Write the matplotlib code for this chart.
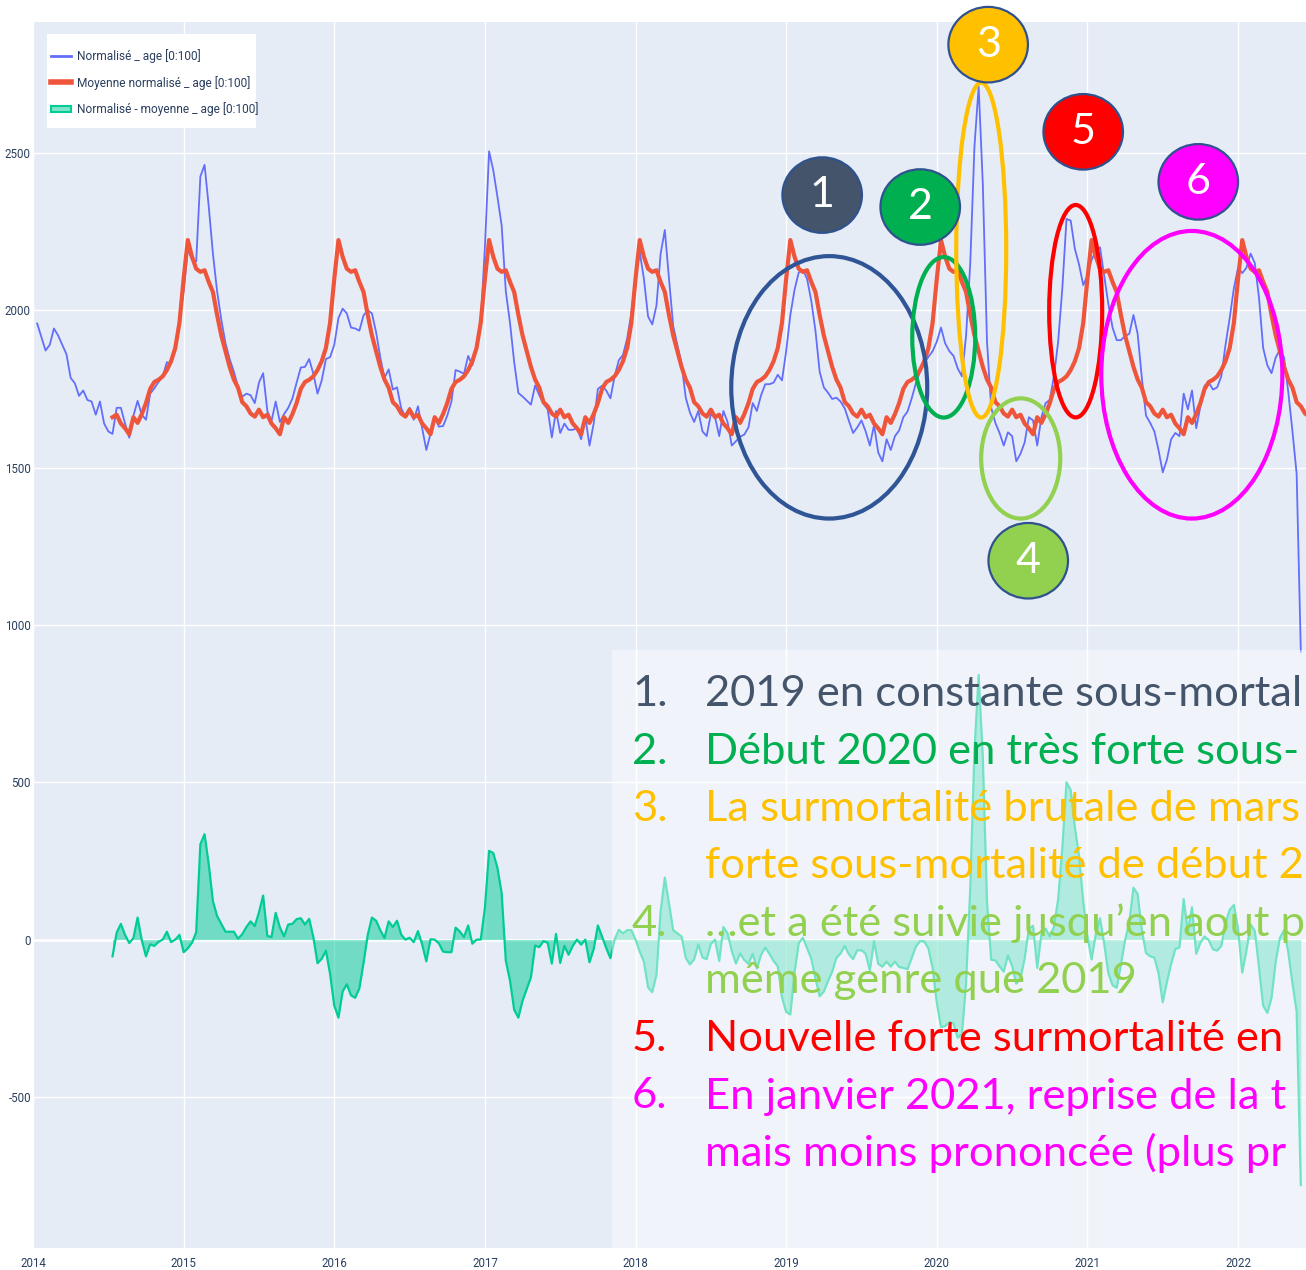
import numpy as np
import matplotlib
matplotlib.use("Agg")
import matplotlib.pyplot as plt
from matplotlib.patches import Ellipse, Rectangle, Patch
from matplotlib.lines import Line2D
from matplotlib.legend_handler import HandlerPatch

# ---------------- data ----------------
STEPS_PER_YEAR = 36          # one value every 1/36 year (~10 days)
START_YEAR = 2014
BLUE_FIRST_STEP = 1
RED_FIRST_STEP = 19
RED_LAST_STEP = 305

# "Normalisé _ age [0:100]"
normalise = [
    1958, 1915, 1872, 1890, 1942, 1920, 1890, 1860, 1785, 1768, 1728, 1745, 1715, 1710, 1668, 1710, 1640, 1615,
    1607, 1690, 1690, 1640, 1595, 1665, 1712, 1668, 1652, 1735, 1752, 1772, 1790, 1835, 1830, 1880, 1975,
    # 2015
    2060, 2195, 2160, 2155, 2425, 2462, 2330, 2180, 2060, 1970, 1895, 1845, 1805, 1757, 1725, 1735, 1730, 1705,
    1770, 1800, 1680, 1648, 1710, 1645, 1670, 1690, 1720, 1770, 1818, 1820, 1845, 1798, 1735, 1777, 1845, 1851,
    # 2016
    1890, 1975, 2005, 1990, 1945, 1942, 1935, 1984, 2000, 1990, 1930, 1850, 1785, 1812, 1748, 1755, 1688, 1662,
    1690, 1652, 1695, 1625, 1556, 1607, 1660, 1630, 1632, 1665, 1710, 1810, 1805, 1798, 1855, 1825, 1880, 1960,
    # 2017
    2200, 2505, 2445, 2360, 2270, 2060, 1960, 1835, 1737, 1726, 1713, 1700, 1761, 1730, 1703, 1685, 1596, 1680,
    1610, 1640, 1620, 1620, 1625, 1590, 1660, 1570, 1640, 1750, 1760, 1745, 1720, 1790, 1841, 1858, 1910, 1990,
    # 2018
    2100, 2185, 2100, 1980, 1955, 2015, 2180, 2255, 2100, 1950, 1890, 1830, 1722, 1675, 1645, 1680, 1615, 1600,
    1670, 1660, 1600, 1680, 1645, 1570, 1584, 1598, 1605, 1628, 1705, 1680, 1730, 1765, 1765, 1770, 1795, 1777,
    # 2019
    1870, 1985, 2065, 2120, 2128, 2100, 2030, 1935, 1805, 1755, 1738, 1718, 1722, 1710, 1688, 1648, 1610, 1628,
    1650, 1615, 1570, 1635, 1548, 1520, 1590, 1556, 1600, 1618, 1660, 1678, 1720, 1768, 1805, 1832, 1852, 1870,
    # 2020
    1900, 1945, 1895, 1870, 1855, 1815, 1790, 1920, 2150, 2520, 2711, 2400, 1900, 1690, 1642, 1610, 1570, 1612,
    1600, 1520, 1544, 1580, 1660, 1650, 1570, 1660, 1705, 1715, 1790, 1900, 2070, 2290, 2285, 2195, 2145, 2080,
    # 2021
    2110, 2160, 2188, 2200, 2110, 2020, 1945, 1905, 1905, 1918, 1925, 1985, 1925, 1785, 1665, 1642, 1615, 1555,
    1485, 1525, 1590, 1610, 1600, 1735, 1685, 1745, 1625, 1695, 1760, 1770, 1748, 1755, 1790, 1890, 1975, 2070,
    # 2022
    2135, 2118, 2135, 2180, 2150, 2040, 1880, 1825, 1800, 1850, 1875, 1850, 1740, 1615, 1480, 915,
]

# "Moyenne normalisé _ age [0:100]" : average yearly profile (36 steps per year)
moyenne_profile = [
    2100, 2223, 2170, 2132, 2122, 2127, 2090, 2058, 1985, 1920, 1870, 1820, 1780, 1754, 1708, 1695, 1672, 1662,
    1684, 1660, 1668, 1640, 1625, 1606, 1660, 1642, 1670, 1705, 1750, 1772, 1779, 1790, 1810, 1838, 1880, 1960,
]

year_ticks = list(range(2014, 2023))
value_ticks = [-500, 0, 500, 1000, 1500, 2000, 2500]

legend_labels = ["Normalisé _ age [0:100]", "Moyenne normalisé _ age [0:100]",
                 "Normalisé - moyenne _ age [0:100]"]

# text as visible in the (cropped) reference
notes = [
    ("1.", "2019 en constante sous-mortal", "#44546A"),
    ("2.", "Début 2020 en très forte sous-", "#00B050"),
    ("3.", "La surmortalité brutale de mars", "#FFC000"),
    ("", "forte sous-mortalité de début 2", "#FFC000"),
    ("4.", "…et a été suivie jusqu’en aout p", "#92D050"),
    ("", "même genre que 2019", "#92D050"),
    ("5.", "Nouvelle forte surmortalité en", "#FF0000"),
    ("6.", "En janvier 2021, reprise de la t", "#FF00FF"),
    ("", "mais moins prononcée (plus pr", "#FF00FF"),
]

# ---------------- series ----------------
steps_blue = np.arange(BLUE_FIRST_STEP, BLUE_FIRST_STEP + len(normalise))
x_blue = START_YEAR + steps_blue / STEPS_PER_YEAR
y_blue = np.array(normalise, dtype=float)

steps_red = np.arange(RED_FIRST_STEP, RED_LAST_STEP + 1)
x_red = START_YEAR + steps_red / STEPS_PER_YEAR
y_red = np.array([moyenne_profile[s % STEPS_PER_YEAR] for s in steps_red], dtype=float)

steps_diff = np.arange(RED_FIRST_STEP, steps_blue[-1] + 1)
x_diff = START_YEAR + steps_diff / STEPS_PER_YEAR
y_diff = y_blue[steps_diff - BLUE_FIRST_STEP] - y_red[steps_diff - RED_FIRST_STEP]

# ---------------- figure ----------------
W, H = 1306, 1270
fig = plt.figure(figsize=(W / 100, H / 100), dpi=100)
fig.patch.set_facecolor("white")

def fx(px):
    return px / W

def fy(py):
    return 1 - py / H

SMALL_FONT = ["Roboto", "DejaVu Sans"]
BIG_FONT = ["Lato", "DejaVu Sans"]

ax = fig.add_axes([fx(33), fy(1248), fx(1306) - fx(33), fy(22) - fy(1248)])
ax.set_facecolor("#E5ECF6")
for s in ax.spines.values():
    s.set_visible(False)

ax.set_xlim(2014, 2022.451)
ax.set_ylim(-980, 2916)
ax.set_xticks(year_ticks)
ax.set_xticklabels([str(y) for y in year_ticks])
ax.set_yticks(value_ticks)
ax.set_yticklabels([str(v) for v in value_ticks])
for lab in ax.get_xticklabels() + ax.get_yticklabels():
    lab.set_fontfamily(SMALL_FONT)
    lab.set_fontsize(8.3)
    lab.set_color("#2a3f5f")
ax.tick_params(axis="both", length=0)
ax.tick_params(axis="y", pad=1.5)
ax.tick_params(axis="x", pad=6.5)
ax.grid(True, color="white", linewidth=1.0, zorder=0)
ax.set_axisbelow(True)
ax.axhline(0, color="white", linewidth=2.0, zorder=0.5)

# traces
ax.plot(x_blue, y_blue, color="#636EFA", linewidth=1.3, zorder=2)
ax.plot(x_red, y_red, color="#EF553B", linewidth=3.0, zorder=3, solid_joinstyle="round")
ax.fill_between(x_diff, y_diff, 0, color="#00CC96", alpha=0.5, linewidth=0, zorder=3)
ax.plot(x_diff, y_diff, color="#00CC96", linewidth=1.6, zorder=4)

# legend: white panel + frameless legend entries
legend_panel = Rectangle((fx(47), fy(128)), fx(256) - fx(47), fy(34) - fy(128),
                         transform=fig.transFigure, facecolor="white", edgecolor="none",
                         zorder=4.5)
ax.add_artist(legend_panel)

def small_rect(legend, orig_handle, xdescent, ydescent, width, height, fontsize):
    hh = 0.75 * height
    return Rectangle((-xdescent, -ydescent + (height - hh) / 2), width, hh)

handles = [
    Line2D([], [], color="#636EFA", linewidth=2.0),
    Line2D([], [], color="#EF553B", linewidth=4.0),
    Patch(facecolor=(0, 0.8, 0.588, 0.5), edgecolor="#00CC96", linewidth=1.5),
]
leg = ax.legend(handles, legend_labels, loc="upper left",
                bbox_to_anchor=(fx(51), fy(49)), bbox_transform=fig.transFigure,
                borderaxespad=0, borderpad=0, frameon=False,
                prop={"family": SMALL_FONT, "size": 8.6},
                handlelength=1.7, handletextpad=0.45, labelspacing=1.05,
                handler_map={Patch: HandlerPatch(patch_func=small_rect)})
leg.set_zorder(5)
for t in leg.get_texts():
    t.set_color("#2a3f5f")

# annotation ellipses (outline)
outline_specs = [
    (2019.286, 1755, 1.301, 834, "#2F5597"),
    (2020.046, 1914, 0.418, 510, "#00B050"),
    (2020.295, 2191, 0.332, 1064, "#FFC000"),
    (2020.557, 1529, 0.525, 382, "#92D050"),
    (2020.922, 1997, 0.352, 675, "#FF0000"),
    (2021.693, 1795, 1.202, 914, "#FF00FF"),
]
for cx, cy, w, h, c in outline_specs:
    ax.add_patch(Ellipse((cx, cy), w, h, facecolor="none", edgecolor=c,
                         linewidth=3.0, zorder=6, clip_on=False))

# numbered badges
badge_specs = [
    ("1", 2019.239, 2366, "#44546A"),
    ("2", 2019.890, 2328, "#00B050"),
    ("3", 2020.341, 2844, "#FFC000"),
    ("4", 2020.607, 1204, "#92D050"),
    ("5", 2020.972, 2567, "#FF0000"),
    ("6", 2021.736, 2408, "#FF00FF"),
]
for num, cx, cy, c in badge_specs:
    ax.add_patch(Ellipse((cx, cy), 0.528, 240, facecolor=c, edgecolor="#2F528F",
                         linewidth=1.6, zorder=7, clip_on=False))
    ax.text(cx, cy, num, color="white", fontsize=31, family=BIG_FONT,
            ha="center", va="center", zorder=8, clip_on=False)

# translucent text box
box = Rectangle((fx(612), fy(1248)), 1.0 - fx(612) + 0.01, fy(650) - fy(1248),
                transform=fig.transFigure, facecolor="white", alpha=0.45,
                edgecolor="none", zorder=10)
fig.add_artist(box)

base0 = 706
for i, (num, txt, c) in enumerate(notes):
    yb = base0 + i * 57.5
    if num:
        fig.text(fx(632), fy(yb), num, color=c, fontsize=31.3, family=BIG_FONT,
                 ha="left", va="baseline", zorder=11)
    fig.text(fx(705), fy(yb), txt, color=c, fontsize=31.3, family=BIG_FONT,
             ha="left", va="baseline", zorder=11)

fig.savefig("out.png", dpi=100)
